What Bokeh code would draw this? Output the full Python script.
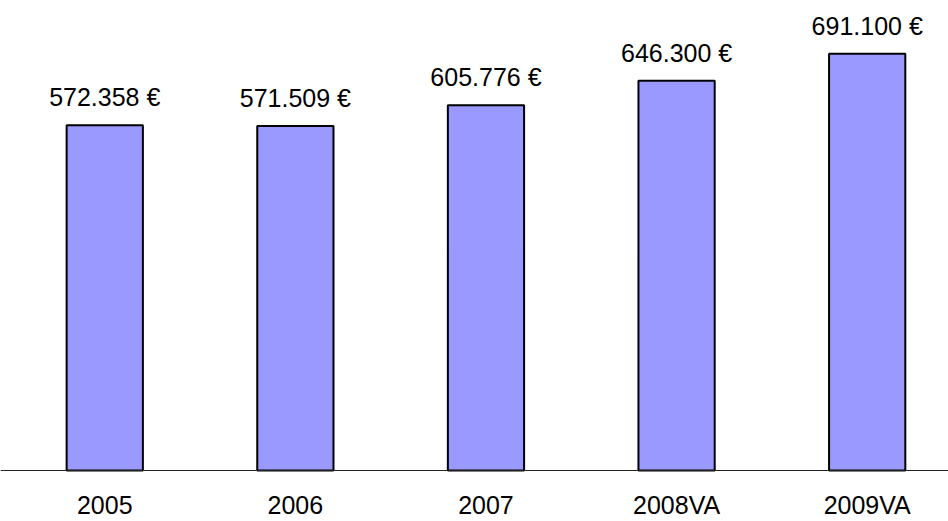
from bokeh.plotting import figure
from bokeh.models import Range1d, FixedTicker, ColumnDataSource
from bokeh.core.properties import value
from bokeh.embed import file_html
from bokeh.resources import INLINE

categories = ["2005", "2006", "2007", "2008VA", "2009VA"]
values = [572358, 571509, 605776, 646300, 691100]

xs = list(range(len(categories)))
labels = [f"{v:,}".replace(",", ".") + " €" for v in values]
src = ColumnDataSource(dict(x=xs, top=values, label=labels))

FONT = "Liberation Sans"

p = figure(width=948, height=521, output_backend="svg", toolbar_location=None,
           x_range=Range1d(-0.547, 4.4266), y_range=Range1d(-84577, 779436),
           min_border_left=0, min_border_right=0, min_border_top=0, min_border_bottom=0)

p.vbar(x="x", top="top", bottom=0, width=0.4, source=src,
       fill_color="#9999FF", line_color="black", line_width=2)

p.text(x="x", y="top", text="label", source=src, text_align="center",
       text_baseline="alphabetic", y_offset=-28,
       text_font=value(FONT), text_font_size="25px", text_color="black")

p.xgrid.visible = False
p.ygrid.visible = False
p.yaxis.visible = False
p.outline_line_color = None

ax = p.xaxis[0]
ax.fixed_location = 0
ax.ticker = FixedTicker(ticks=xs)
ax.major_label_overrides = {i: c for i, c in zip(xs, categories)}
ax.major_tick_line_color = None
ax.minor_tick_line_color = None
ax.major_tick_out = 0
ax.major_tick_in = 0
ax.major_label_standoff = 20
ax.major_label_text_font = FONT
ax.major_label_text_font_size = "25px"
ax.major_label_text_color = "black"
ax.axis_line_color = "#222222"
ax.axis_line_width = 1

open("out.html", "w").write(file_html(p, INLINE))
